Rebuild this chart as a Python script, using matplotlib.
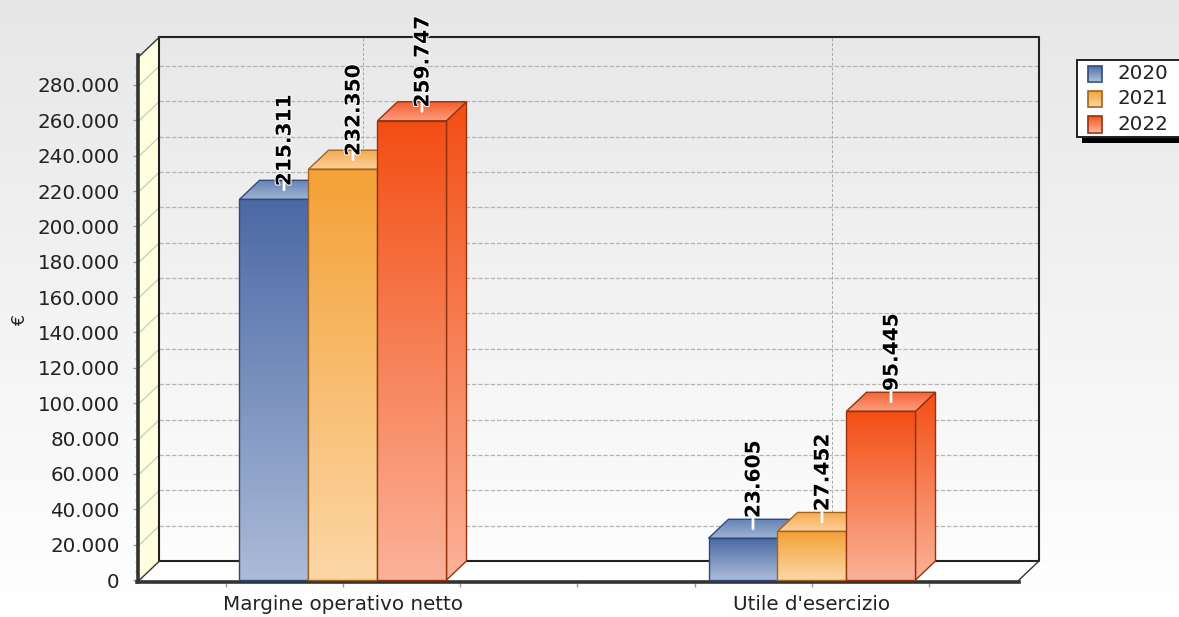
import numpy as np
import matplotlib
matplotlib.use('Agg')
import matplotlib.pyplot as plt
import matplotlib.patheffects as pe
from matplotlib.colors import LinearSegmentedColormap
from matplotlib.patches import Polygon, Rectangle

# Data
categorie = ['Margine operativo netto', "Utile d'esercizio"]
anni = ['2020', '2021', '2022']
valori_2020 = [215311, 23605]
valori_2021 = [232350, 27452]
valori_2022 = [259747, 95445]
y_ticks = list(range(0, 300000, 20000))
y_labels = ['0', '20.000', '40.000', '60.000', '80.000', '100.000', '120.000',
            '140.000', '160.000', '180.000', '200.000', '220.000', '240.000',
            '260.000', '280.000']

# Colours: (front top, front bottom, top face back, top face front, edge)
stile = [
    ('#4a69a5', '#acbbd8', '#6483b6', '#a0b3d4', '#2f4a7a'),
    ('#f4a136', '#fcd7a6', '#f5a94f', '#fbd09b', '#a06420'),
    ('#f34e14', '#fbb298', '#f4602f', '#fc9c80', '#93340f'),
]

W, H = 1179, 617
PX_CAT = 469.0       # pixels between the two categories
PX_VAL = 1.768e-3    # pixels per euro
X0, Y0 = 343.0, 580.0

fig = plt.figure(figsize=(W / 100, H / 100), dpi=100)
ax = fig.add_axes([0, 0, 1, 1])
x_lim = ((0 - X0) / PX_CAT, (W - X0) / PX_CAT)
y_lim = ((Y0 - H) / PX_VAL, Y0 / PX_VAL)
ax.set_xlim(x_lim)
ax.set_ylim(y_lim)
ax.autoscale(False)


def dx_(px):
    return (px - X0) / PX_CAT


def dy_(py):
    return (Y0 - py) / PX_VAL


def gradiente(verts, c_top, c_bot, zorder, edge=None, lw=1.0):
    verts = np.array(verts)
    cmap = LinearSegmentedColormap.from_list('g', [c_top, c_bot])
    img = np.linspace(0, 1, 256)[:, None]
    im = ax.imshow(img, cmap=cmap, aspect='auto', origin='upper', zorder=zorder,
                   extent=(verts[:, 0].min(), verts[:, 0].max(),
                           verts[:, 1].min(), verts[:, 1].max()))
    im.set_clip_path(Polygon(verts, transform=ax.transData))
    if edge is not None:
        ax.add_patch(Polygon(verts, closed=True, fill=False, edgecolor=edge,
                             linewidth=lw, zorder=zorder + 0.01))


# Background
gradiente([(dx_(0), dy_(0)), (dx_(W), dy_(0)), (dx_(W), dy_(H)), (dx_(0), dy_(H))],
          '#e7e7e7', '#ffffff', 0)

# 3D box: depth and corners
DX = 20 / PX_CAT
DY = 19 / PX_VAL
left, right = dx_(139.5), dx_(1019)
top = dy_(56)

ax.add_patch(Polygon([(left, 0), (left + DX, DY), (left + DX, top + DY), (left, top)],
                     facecolor='#ffffe0', edgecolor='none', zorder=1))
ax.add_patch(Polygon([(left, 0), (right, 0), (right + DX, DY), (left + DX, DY)],
                     facecolor='white', edgecolor='none', zorder=1))

# Grid on the back wall and on the side wall
griglia = dict(color='#b4b4b4', linewidth=0.9, linestyle=(0, (3.5, 1.5)), zorder=2)
for v in y_ticks[1:]:
    ax.plot([left + DX, right + DX], [v + DY, v + DY], **griglia)
    ax.plot([left, left + DX], [v, v + DY], color='#cfcfbe', linewidth=1.0, zorder=2)
for i in range(len(categorie)):
    ax.plot([i + DX, i + DX], [DY, top + DY], color='#a8a8a8', linewidth=0.7,
            linestyle=(0, (3, 2)), zorder=2)

# Frame of the box
telaio = dict(color='#222222', linewidth=1.5, zorder=2.2, solid_capstyle='projecting')
ax.plot([left + DX, right + DX, right + DX, left + DX, left + DX],
        [top + DY, top + DY, DY, DY, top + DY], **telaio)
ax.plot([left, left + DX], [top, top + DY], color='#333333', linewidth=1.0, zorder=2.2)
ax.plot([left, left + DX], [0, DY], color='#333333', linewidth=1.0, zorder=2.2)
ax.plot([right, right + DX], [0, DY], color='#333333', linewidth=1.0, zorder=2.2)

# Bars
w = 69 / PX_CAT
serie = [valori_2020, valori_2021, valori_2022]
etichette = []
for s, valori in enumerate(serie):
    c_top, c_bot, f_back, f_front, edge = stile[s]
    for i, v in enumerate(valori):
        x0 = i + (s - 1.5) * w
        x1 = x0 + w
        z = 3 + s * 0.1 + i * 0.01
        gradiente([(x1, 0), (x1 + DX, DY), (x1 + DX, v + DY), (x1, v)],
                  c_top, c_bot, z, edge)
        gradiente([(x0, v), (x1, v), (x1 + DX, v + DY), (x0 + DX, v + DY)],
                  f_back, f_front, z + 0.02, edge)
        gradiente([(x0, 0), (x1, 0), (x1, v), (x0, v)], c_top, c_bot, z + 0.04, edge)
        etichette.append(((x0 + x1 + DX) / 2, v + DY / 2, v))

# Value labels with the white leader line
for xc, yc, v in etichette:
    ax.annotate('', xy=(xc, yc + 12 / PX_VAL), xytext=(xc, yc),
                arrowprops=dict(arrowstyle='-', color='white', linewidth=2.0,
                                shrinkA=0, shrinkB=0), zorder=6)
    ax.annotate(f'{v:,}'.replace(',', '.'), xy=(xc, yc), xytext=(0.7, 35.6),
                textcoords='offset points', rotation=90, ha='center', va='center',
                fontsize=14.5, fontweight='bold', color='black', zorder=7,
                path_effects=[pe.withStroke(linewidth=1.5, foreground='white')])

# Axes drawn on the front edge of the box
for lato in ['top', 'right']:
    ax.spines[lato].set_visible(False)
ax.spines['left'].set_position(('data', dx_(138.5)))
ax.spines['left'].set_bounds(dy_(582), dy_(55))
ax.spines['bottom'].set_position(('data', dy_(581.5)))
ax.spines['bottom'].set_bounds(dx_(137), dx_(1019))
for lato in ['left', 'bottom']:
    ax.spines[lato].set_linewidth(2.6)
    ax.spines[lato].set_color('#333333')

ax.set_yticks(y_ticks)
ax.set_yticklabels(y_labels)
ax.set_yticks(list(range(0, 295000, 5000)), minor=True)
ax.set_xticks(range(len(categorie)))
ax.set_xticklabels(categorie)
ax.set_xticks([-0.25, 0.25, 0.5, 0.75, 1.25], minor=True)
ax.tick_params(axis='y', which='major', length=3.5, width=1, color='#999999',
               labelsize=14.3, labelcolor='#222222', pad=10)
ax.tick_params(axis='y', which='minor', length=2.5, width=1, color='#aaaaaa')
ax.tick_params(axis='x', which='major', length=3.5, width=1, color='#999999',
               labelsize=14.3, labelcolor='#222222', pad=6.5)
ax.tick_params(axis='x', which='minor', length=3.5, width=1, color='#999999')
ax.set_ylabel('€', fontsize=12.5, color='#222222')
ax.yaxis.set_label_coords(29 / W, 1 - 320 / H)

# Legend box, running off the right edge
ax.add_patch(Rectangle((dx_(1082), dy_(143)), dx_(W + 10) - dx_(1082), dy_(65) - dy_(143),
                       facecolor='black', edgecolor='none', zorder=8))
ax.add_patch(Rectangle((dx_(1077), dy_(137)), dx_(W + 10) - dx_(1077), dy_(60) - dy_(137),
                       facecolor='white', edgecolor='#222222', linewidth=1.4, zorder=8.1))
for s, anno in enumerate(anni):
    yc = 73.5 + s * 25.5
    c_top, c_bot, _, _, edge = stile[s]
    gradiente([(dx_(1087.5), dy_(yc + 8)), (dx_(1102.5), dy_(yc + 8)),
               (dx_(1102.5), dy_(yc - 8)), (dx_(1087.5), dy_(yc - 8))],
              c_top, c_bot, 8.2, edge, 1.2)
    ax.text(dx_(1118), dy_(yc), anno, fontsize=14.3, color='#222222', va='center',
            ha='left', zorder=8.3)

ax.set_xlim(x_lim)
ax.set_ylim(y_lim)
fig.savefig('out.png', dpi=100)
